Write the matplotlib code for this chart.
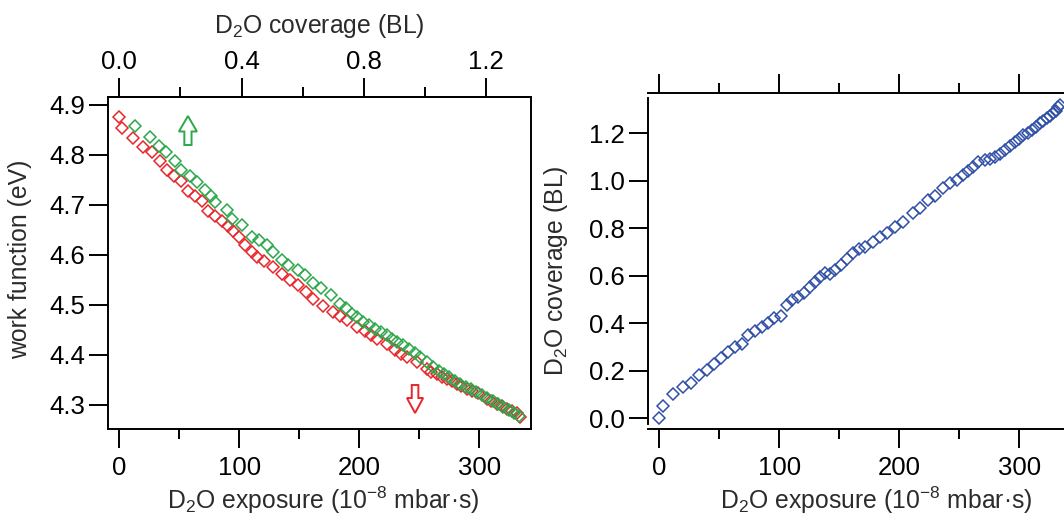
import matplotlib
matplotlib.use("Agg")
import matplotlib.pyplot as plt
from matplotlib.patches import FancyArrow
from matplotlib.ticker import MultipleLocator, FixedLocator

plt.rcParams['font.family'] = ['Liberation Sans', 'DejaVu Sans']
plt.rcParams['mathtext.fontset'] = 'custom'
plt.rcParams['mathtext.rm'] = 'Liberation Sans'

# work function vs exposure, red set (10^-8 mbar s, eV)
red_exp = [0, 2, 11.7, 19.5, 27, 34, 39.5, 45.6, 51.4, 57.5, 63, 68.7, 74, 79.8, 85.3,
           90.3, 95, 99.5, 104.8, 110.3, 114.5, 120.8, 128.3, 135.3, 142, 149, 155.5,
           161.7, 170, 178.3, 183.5, 189.4, 197.8, 204.7, 209.5, 214.5, 222.8, 229.7,
           234.5, 239.5, 247.8, 256, 260, 264.5, 268.5, 272.8, 277, 281, 285, 289.5,
           294, 299, 306, 310, 314.5, 318.5, 322.8, 327, 331, 334]
red_wf = [4.877, 4.855, 4.835, 4.817, 4.807, 4.788, 4.77, 4.758, 4.749, 4.729, 4.718,
          4.708, 4.689, 4.678, 4.668, 4.658, 4.648, 4.637, 4.62, 4.607, 4.597, 4.588,
          4.577, 4.562, 4.55, 4.54, 4.527, 4.513, 4.498, 4.487, 4.478, 4.47, 4.457,
          4.449, 4.441, 4.433, 4.423, 4.41, 4.403, 4.397, 4.387, 4.373, 4.367, 4.362,
          4.357, 4.353, 4.348, 4.343, 4.338, 4.333, 4.328, 4.323, 4.313, 4.309, 4.303,
          4.298, 4.293, 4.289, 4.283, 4.276]

# green set
green_exp = [13, 25.6, 33.3, 38.6, 46.4, 51.4, 59, 64.5, 71.4, 76.4, 79.8, 89.5, 93.7,
             102, 110.3, 116, 122.8, 128.3, 135.3, 140.8, 149, 154.8, 161.7, 168, 176,
             183.9, 188.5, 193.6, 198, 203.3, 208, 213, 218, 222.8, 227, 231, 236, 241,
             246, 250.6, 256, 261.7, 266, 270.5, 275, 279.5, 284, 288.5, 293, 297.5,
             302, 306.5, 311, 315.5, 320, 324.5, 329, 333]
green_wf = [4.858, 4.837, 4.819, 4.807, 4.789, 4.77, 4.758, 4.747, 4.73, 4.718, 4.707,
            4.69, 4.673, 4.66, 4.637, 4.63, 4.62, 4.607, 4.59, 4.58, 4.57, 4.56, 4.545,
            4.535, 4.52, 4.503, 4.495, 4.483, 4.476, 4.467, 4.46, 4.453, 4.447, 4.44,
            4.433, 4.427, 4.42, 4.413, 4.405, 4.397, 4.387, 4.377, 4.368, 4.362, 4.355,
            4.349, 4.343, 4.337, 4.331, 4.326, 4.32, 4.314, 4.308, 4.302, 4.296, 4.29,
            4.284, 4.279]

# coverage vs exposure (BL)
cov_exp = [0, 2.8, 11.7, 19.5, 26.4, 33.3, 39.5, 45.6, 51.4, 57.5, 63, 68.7, 74.2, 79.8,
           85.3, 90.8, 95.6, 101.2, 106.2, 110.3, 115.8, 120.6, 125.6, 129.8, 133.9, 138,
           142.3, 146.4, 151.1, 156.2, 161.7, 166, 171.4, 178.3, 183.9, 189.5, 196.4,
           203.3, 211.2, 217.2, 224.2, 229.7, 236.7, 242.2, 248.3, 253.3, 257.5, 261.7,
           265.8, 271.4, 275.5, 279.7, 284, 288, 292, 296.4, 299.8, 303.3, 306.8, 310.3,
           313.8, 317.3, 320, 322.8, 325.5, 328.3, 330.5, 332.5, 334]
cov = [0.0, 0.053, 0.102, 0.133, 0.15, 0.182, 0.203, 0.229, 0.253, 0.28, 0.301, 0.311,
       0.351, 0.368, 0.383, 0.403, 0.421, 0.431, 0.477, 0.498, 0.512, 0.526, 0.552,
       0.575, 0.594, 0.611, 0.608, 0.624, 0.645, 0.669, 0.695, 0.712, 0.722, 0.744,
       0.765, 0.779, 0.807, 0.828, 0.863, 0.884, 0.919, 0.936, 0.968, 0.989, 1.003,
       1.024, 1.04, 1.059, 1.08, 1.087, 1.094, 1.101, 1.115, 1.13, 1.148, 1.165, 1.178,
       1.193, 1.203, 1.214, 1.228, 1.242, 1.252, 1.263, 1.273, 1.284, 1.296, 1.312, 1.32]

# top axis of the left panel
cov_major = [0.0, 0.4, 0.8, 1.2]
cov_minor = [0.2, 0.6, 1.0]
bl_per_exposure = 1.2 / 305.5

red = '#e8262b'
green = '#2aa84a'
blue = '#3050a8'
label_col = '#2b2b2b'
fs_tick = 18.5
fs_lab = 17.8
lw = 1.4

fig = plt.figure(figsize=(10.64, 5.16), dpi=100)
ax1 = fig.add_axes([108 / 1064, 1 - 429 / 516, 423 / 1064, 332 / 516])
ax2 = fig.add_axes([648 / 1064, 1 - 424 / 516, 423 / 1064, 326 / 516])

mk = dict(marker='D', ms=6.0, mfc='none', mew=1.1, ls='none', clip_on=False)
ax1.plot(red_exp, red_wf, color=red, **mk)
ax1.plot(green_exp, green_wf, color=green, **mk)
ax2.plot(cov_exp, cov, color=blue, **mk)

# hollow arrows
ax1.add_patch(FancyArrow(57.2, 4.820, 0, 0.058, width=6, head_width=15, head_length=0.031,
                         length_includes_head=True, fc='white', ec=green, lw=1.4))
ax1.add_patch(FancyArrow(246.4, 4.340, 0, -0.056, width=5.5, head_width=13.5,
                         head_length=0.03, length_includes_head=True, fc='white',
                         ec=red, lw=1.4))

xlabel = r'D$\mathregular{_2}$O exposure (10$\mathregular{^{-8}}$ mbar·s)'
for ax in (ax1, ax2):
    ax.set_xlim(-9.4, 343)
    ax.xaxis.set_major_locator(MultipleLocator(100))
    ax.xaxis.set_minor_locator(MultipleLocator(50))
    for s in ax.spines.values():
        s.set_linewidth(lw)
    ax.tick_params(which='both', direction='out', width=lw, labelsize=fs_tick,
                   colors='black')
    ax.tick_params(which='major', length=13.7)
    ax.tick_params(which='minor', length=7)
    ax.tick_params(axis='x', pad=6)
    ax.tick_params(axis='y', pad=3)
    ax.set_xlabel(xlabel, fontsize=fs_lab, color=label_col)

ax1.set_ylim(4.252, 4.916)
ax1.yaxis.set_major_locator(MultipleLocator(0.1))
ax1.set_ylabel('work function (eV)', fontsize=fs_lab, color=label_col)
ax1.xaxis.set_label_coords(0.508, -0.166)
ax1.yaxis.set_label_coords(-0.18, 0.51)

sec = ax1.secondary_xaxis('top', functions=(lambda x: x * bl_per_exposure,
                                            lambda c: c / bl_per_exposure))
sec.xaxis.set_major_locator(FixedLocator(cov_major))
sec.xaxis.set_minor_locator(FixedLocator(cov_minor))
sec.xaxis.set_major_formatter(plt.FormatStrFormatter('%.1f'))
sec.spines['top'].set_linewidth(lw)
sec.tick_params(which='both', direction='out', width=lw, labelsize=fs_tick, pad=3)
sec.tick_params(which='major', length=13.7)
sec.tick_params(which='minor', length=7)
sec.set_xlabel(r'D$\mathregular{_2}$O coverage (BL)', fontsize=fs_lab, color=label_col,
               labelpad=12)

ax2.set_ylim(-0.024, 1.349)
ax2.yaxis.set_major_locator(MultipleLocator(0.2))
ax2.yaxis.set_major_formatter(plt.FormatStrFormatter('%.1f'))
ax2.spines['top'].set_position(('outward', 3.6))
ax2.spines['bottom'].set_position(('outward', 3.6))
ax2.spines['right'].set_visible(False)
ax2.tick_params(axis='x', which='both', top=True)
ax2.set_ylabel(r'D$\mathregular{_2}$O coverage (BL)', fontsize=fs_lab, color=label_col)
ax2.xaxis.set_label_coords(0.539, -0.185)
ax2.yaxis.set_label_coords(-0.184, 0.47)

fig.savefig('out.png', dpi=100, facecolor='white')
